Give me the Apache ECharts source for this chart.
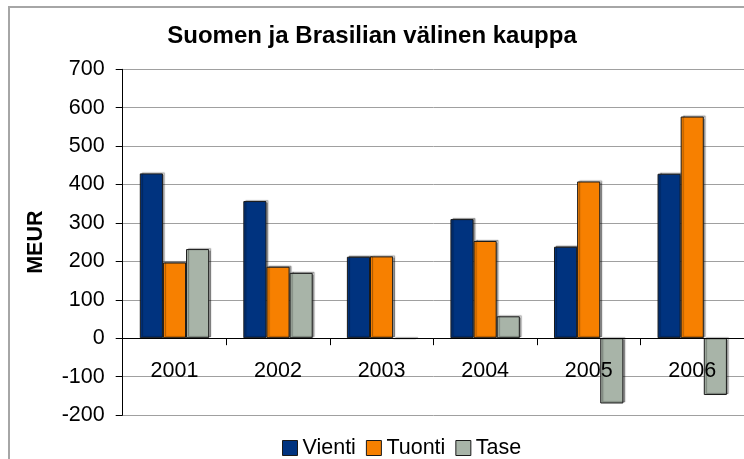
<!DOCTYPE html>
<html>
<head>
<meta charset="utf-8">
<script src="https://cdn.jsdelivr.net/npm/echarts@6/dist/echarts.min.js"></script>
<style>
html,body{margin:0;padding:0;background:#fff;}
#chart{width:744px;height:459px;}
</style>
</head>
<body>
<div id="chart"></div>
<script>
var categories = ['2001', '2002', '2003', '2004', '2005', '2006'];
var vienti = [429, 357, 212, 310, 238, 428];
var tuonti = [197, 186, 213, 253, 408, 577];
var tase = [232, 170, -2, 57, -170, -148];
var yTicks = {min: -200, max: 700, interval: 100};
var titleText = 'Suomen ja Brasilian välinen kauppa';
var yName = 'MEUR';

var FONT = 'Liberation Sans, Arial, sans-serif';
var chart = echarts.init(document.getElementById('chart'), null, {renderer: 'canvas'});

function barSeries(name, data, color) {
  return {
    name: name,
    type: 'bar',
    data: data,
    barGap: '0%',
    barCategoryGap: '33%',
    itemStyle: {
      color: color,
      borderColor: '#1a1a1a',
      borderWidth: 1,
      shadowColor: 'rgba(0,0,0,0.35)',
      shadowOffsetX: 2,
      shadowOffsetY: -1,
      shadowBlur: 1
    },
    emphasis: {disabled: true}
  };
}

chart.setOption({
  animation: false,
  backgroundColor: '#fff',
  graphic: [{
    type: 'rect',
    shape: {x: 9, y: 7, width: 800, height: 500},
    style: {fill: 'none', stroke: '#a6a6a6', lineWidth: 2},
    z: -1, silent: true
  }],
  title: {
    text: titleText,
    left: 'center',
    top: 24,
    padding: 0,
    textStyle: {fontFamily: FONT, fontSize: 24, fontWeight: 'bold', color: '#000'}
  },
  legend: {
    data: ['Vienti', 'Tuonti', 'Tase'],
    left: 282,
    top: 437,
    padding: 0,
    itemWidth: 15,
    itemHeight: 15,
    itemGap: 10,
    icon: 'rect',
    itemStyle: {borderColor: '#1a1a1a', borderWidth: 1, shadowBlur: 0, shadowOffsetX: 0, shadowOffsetY: 0},
    textStyle: {fontFamily: FONT, fontSize: 21.5, color: '#000', padding: [0,0,0,0]}
  },
  grid: {left: 122.7, top: 69.3, right: -4.7, bottom: 44, containLabel: false},
  xAxis: {
    type: 'category',
    data: categories,
    z: 10,
    axisLine: {onZero: true, lineStyle: {color: '#000', width: 1}},
    axisTick: {show: true, inside: false, length: 7, lineStyle: {color: '#000'}},
    axisLabel: {fontFamily: FONT, fontSize: 21.5, color: '#000', margin: -55},
    splitLine: {show: false}
  },
  yAxis: {
    type: 'value',
    min: yTicks.min,
    max: yTicks.max,
    interval: yTicks.interval,
    name: yName,
    nameLocation: 'middle',
    nameGap: 76,
    nameRotate: 90,
    nameTextStyle: {fontFamily: FONT, fontSize: 21.5, fontWeight: 'bold', color: '#000'},
    axisLine: {show: true, lineStyle: {color: '#000', width: 1}},
    axisTick: {show: true, inside: false, length: 7, lineStyle: {color: '#000'}},
    axisLabel: {fontFamily: FONT, fontSize: 21.5, color: '#000', margin: 18},
    splitLine: {show: true, lineStyle: {color: '#a0a0a0', width: 1}}
  },
  series: [
    barSeries('Vienti', vienti, '#00337f'),
    barSeries('Tuonti', tuonti, '#f78000'),
    barSeries('Tase', tase, '#a8b4a8')
  ]
});
</script>
</body>
</html>
